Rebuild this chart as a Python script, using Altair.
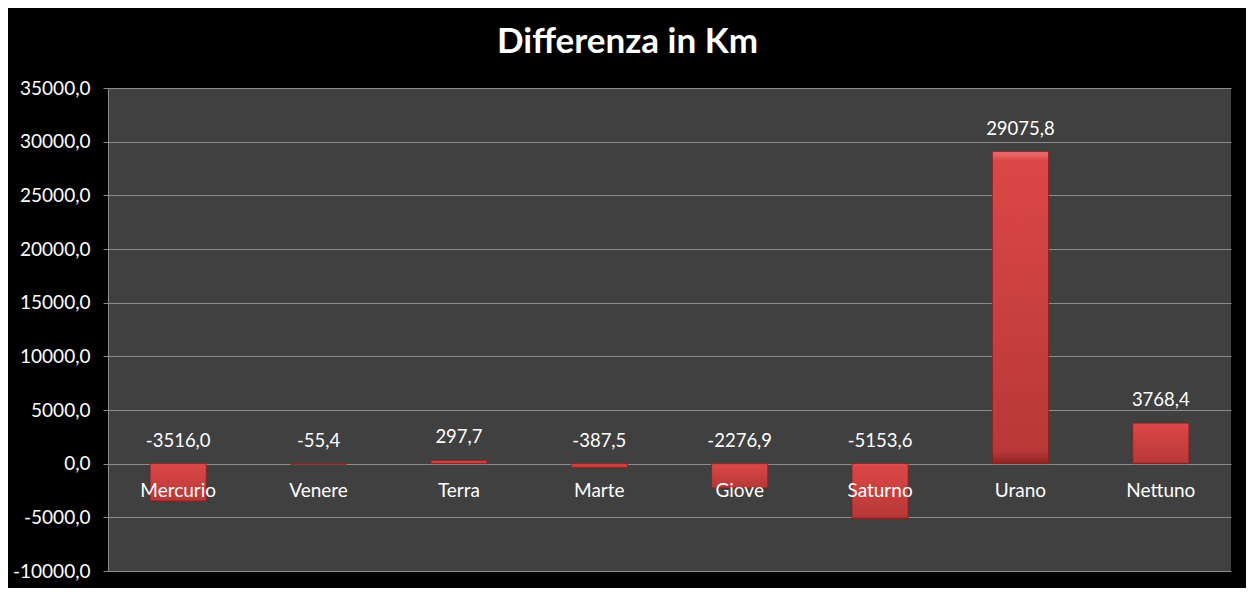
import altair as alt
import pandas as pd

pianeti = ["Mercurio", "Venere", "Terra", "Marte", "Giove", "Saturno", "Urano", "Nettuno"]
differenza = [-3516.0, -55.4, 297.7, -387.5, -2276.9, -5153.6, 29075.8, 3768.4]
y_ticks = [-10000, -5000, 0, 5000, 10000, 15000, 20000, 25000, 30000, 35000]

df = pd.DataFrame({"pianeta": pianeti, "valore": differenza})

FONT = "Lato"
fmt_expr = "(datum.valore < 0 ? '-' : '') + replace(format(abs(datum.valore), '.1f'), '.', ',')"

x_enc = alt.X("pianeta:N", sort=pianeti, axis=None,
              scale=alt.Scale(paddingInner=0.6, paddingOuter=0.3))
y_scale = alt.Scale(domain=[-10000, 35000], nice=False, zero=False)

base = alt.Chart(df).transform_calculate(
    etichetta=fmt_expr,
    top="max(datum.valore, 0)",
)

bars = base.mark_bar(
    stroke="#8a1e1e",
    strokeWidth=0.8,
    fill=alt.Gradient(
        gradient="linear",
        x1=0, y1=0, x2=0, y2=1,
        stops=[
            alt.GradientStop(color="#ec7070", offset=0),
            alt.GradientStop(color="#dc4747", offset=0.03),
            alt.GradientStop(color="#b83838", offset=0.96),
            alt.GradientStop(color="#8e2222", offset=1),
        ],
    ),
).encode(
    x=x_enc,
    y=alt.Y("valore:Q", scale=y_scale,
            axis=alt.Axis(values=y_ticks, title=None, grid=True,
                          gridColor="#8c8c8c", gridWidth=1,
                          domainColor="#8c8c8c", tickColor="#8c8c8c",
                          tickSize=5, labelColor="white", labelFont=FONT,
                          labelFontSize=19, labelPadding=13,
                          labelExpr="(datum.value < 0 ? '-' : '') + replace(format(abs(datum.value), '.1f'), '.', ',')")),
    y2=alt.datum(0),
)

value_labels = base.mark_text(
    color="white", font=FONT, fontSize=18.5, baseline="alphabetic", dy=-17
).encode(
    x=x_enc,
    y=alt.Y("top:Q", scale=y_scale),
    text="etichetta:N",
)

cat_labels = base.mark_text(
    color="white", font=FONT, fontSize=19, baseline="middle", dy=27
).encode(
    x=x_enc,
    y=alt.datum(0, scale=y_scale),
    text="pianeta:N",
)

chart = alt.layer(bars, value_labels, cat_labels).properties(
    width=1123,
    height=483,
    background="black",
    padding={"left": 100, "top": 80, "right": 15, "bottom": 17},
    autosize=alt.AutoSizeParams(type="none"),
    title=alt.TitleParams(
        "Differenza in Km", color="white", font=FONT, fontSize=35,
        fontWeight="bold", anchor="middle", dx=-42, offset=19,
    ),
).configure_view(
    fill="#404040", stroke=None
)

chart.save("out.html", embed_options={"renderer": "svg", "actions": False})
